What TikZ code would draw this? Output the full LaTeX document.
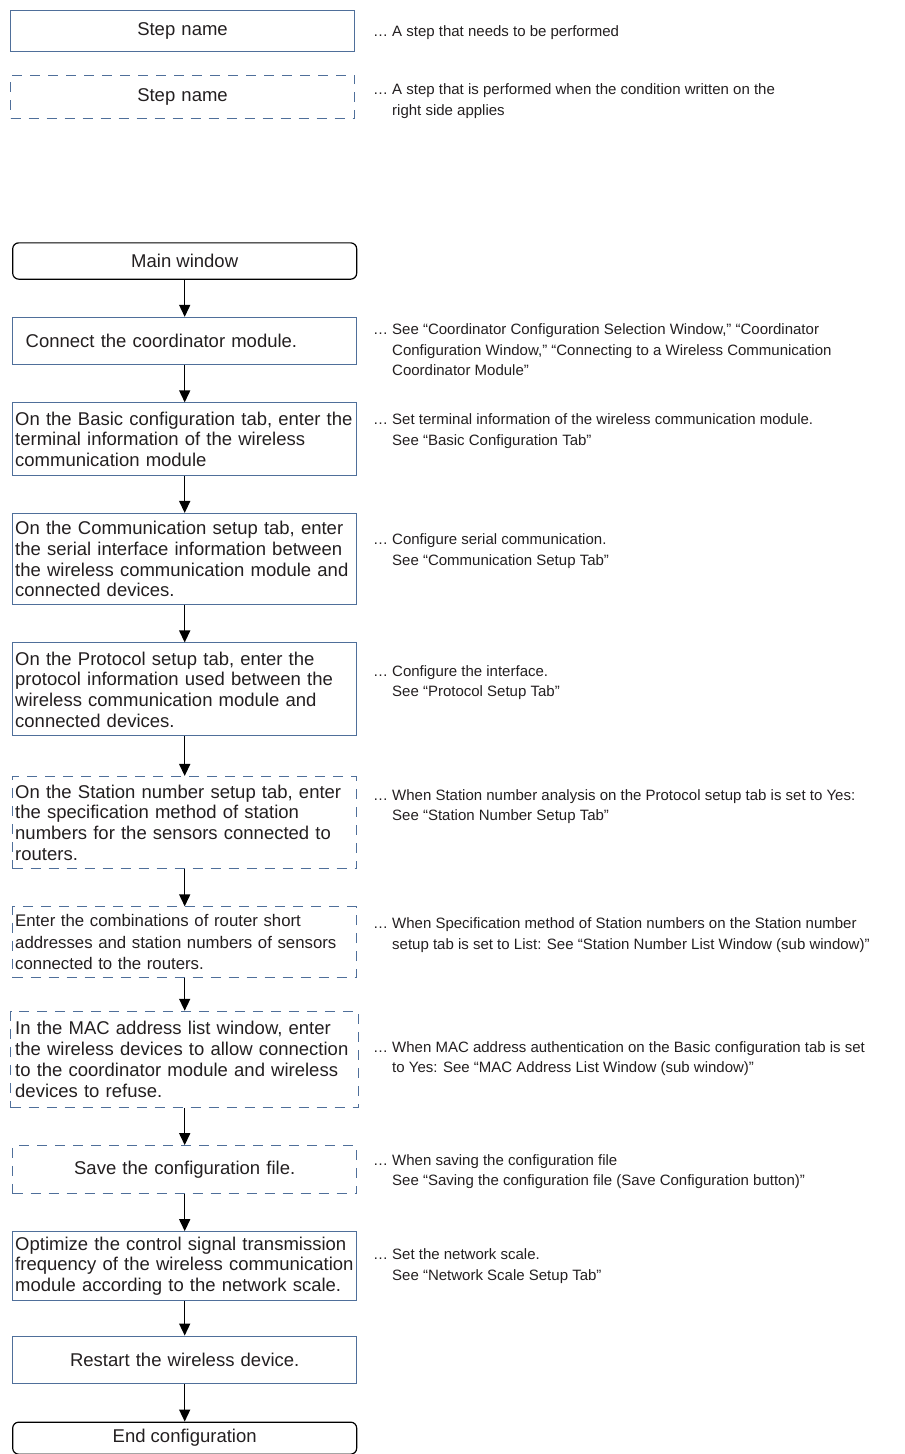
\documentclass[tikz,border=0pt]{standalone}
\usepackage{fontspec}
\setmainfont{Liberation Sans}
\usepackage{tikz}
\usetikzlibrary{arrows.meta,positioning}
\usepackage{xcolor}
\definecolor{boxblue}{RGB}{79,111,154}
\definecolor{txtgray}{RGB}{35,31,32}
\newcommand{\notedots}{\leavevmode\llap{…\ }}

\begin{document}
\begin{tikzpicture}[
x=1pt,y=-1pt,
node distance=37.1pt,
stepbox/.style={rectangle,draw=boxblue,line width=1pt,minimum width=344pt,inner xsep=2.5pt,inner ysep=2pt,text width=339pt,align=left,text=txtgray,font=\fontsize{18.5pt}{20.7pt}\selectfont},
optbox/.style={stepbox,dash pattern=on 10pt off 8pt},
endbox/.style={rectangle,draw,rounded corners=6pt,line width=1.2pt,minimum width=344pt,align=center,text=txtgray,font=\fontsize{18.5pt}{20.7pt}\selectfont},
note/.style={anchor=west,inner sep=0pt,align=left,text=txtgray,font=\fontsize{15pt}{20.5pt}\selectfont},
arr/.style={-{Triangle[length=12pt,width=11pt]},line width=1.5pt}
]
\useasboundingbox (0,0) rectangle (905,1454);
\coordinate (notex) at (392,0);

% legend
\node[stepbox,align=center,minimum height=41.7pt] (leg1) at (182.5,30.9) {Step name};
\node[optbox,align=center,minimum height=43pt,below=22.3pt of leg1] (leg2) {Step name};
\node[note,yshift=-2pt] (nleg1) at (notex |- leg1) {\notedots A step that needs to be performed};
\node[note,yshift=-4.5pt] (nleg2) at (notex |- leg2) {\notedots A step that is performed when the condition written on the\\right side applies};

% flow
\node[endbox,minimum height=36.3pt] (main) at (184.7,261) {Main window};
\node[stepbox,minimum height=47.4pt,text width=318pt,below=of main] (conn) {Connect the coordinator module.};
\node[stepbox,minimum height=72.5pt,below=of conn] (basic) {On the Basic configuration tab, enter the\\terminal information of the wireless\\communication module};
\node[stepbox,minimum height=91.4pt,below=of basic] (comm) {On the Communication setup tab, enter\\the serial interface information between\\the wireless communication module and\\connected devices.};
\node[stepbox,minimum height=93pt,below=of comm] (proto) {On the Protocol setup tab, enter the\\protocol information used between the\\wireless communication module and\\connected devices.};
\node[optbox,minimum height=92.3pt,below=39.5pt of proto] (stat) {On the Station number setup tab, enter\\the specification method of station\\numbers for the sensors connected to\\routers.};
\node[optbox,minimum height=70.3pt,font=\fontsize{16.8pt}{21.2pt}\selectfont,below=of stat] (router) {Enter the combinations of router short\\addresses and station numbers of sensors\\connected to the routers.};
\node[optbox,minimum height=96.3pt,minimum width=348pt,below=33.1pt of router] (mac) {In the MAC address list window, enter\\the wireless devices to allow connection\\to the coordinator module and wireless\\devices to refuse.};
\node[optbox,align=center,minimum height=47.9pt,below=of mac] (save) {Save the configuration file.};
\node[stepbox,minimum height=68.9pt,below=of save] (opt) {Optimize the control signal transmission\\frequency of the wireless communication\\module according to the network scale.};
\node[stepbox,align=center,minimum height=47.9pt,below=34.5pt of opt] (restart) {Restart the wireless device.};
\node[endbox,minimum height=32pt,below=of restart] (end) {End configuration};

% notes on the right
\node[note,yshift=-9pt] (nconn) at (notex |- conn) {\notedots See “Coordinator Configuration Selection Window,” “Coordinator\\Configuration Window,” “Connecting to a Wireless Communication\\Coordinator Module”};
\node[note,yshift=8pt] (nbasic) at (notex |- basic) {\notedots Set terminal information of the wireless communication module.\\See “Basic Configuration Tab”};
\node[note,yshift=8pt] (ncomm) at (notex |- comm) {\notedots Configure serial communication.\\See “Communication Setup Tab”};
\node[note,yshift=7pt] (nproto) at (notex |- proto) {\notedots Configure the interface.\\See “Protocol Setup Tab”};
\node[note,yshift=16pt] (nstat) at (notex |- stat) {\notedots When Station number analysis on the Protocol setup tab is set to Yes:\\See “Station Number Setup Tab”};
\node[note,yshift=7pt] (nrouter) at (notex |- router) {\notedots When Specification method of Station numbers on the Station number\\setup tab is set to List: See “Station Number List Window (sub window)”};
\node[note,yshift=1pt] (nmac) at (notex |- mac) {\notedots When MAC address authentication on the Basic configuration tab is set\\to Yes: See “MAC Address List Window (sub window)”};
\node[note,yshift=-2pt] (nsave) at (notex |- save) {\notedots When saving the configuration file\\See “Saving the configuration file (Save Configuration button)”};
\node[note] (nopt) at (notex |- opt) {\notedots Set the network scale.\\See “Network Scale Setup Tab”};

\draw[arr] (main) -- (conn);
\draw[arr] (conn) -- (basic);
\draw[arr] (basic) -- (comm);
\draw[arr] (comm) -- (proto);
\draw[arr] (proto) -- (stat);
\draw[arr] (stat) -- (router);
\draw[arr] (router) -- (mac);
\draw[arr] (mac) -- (save);
\draw[arr] (save) -- (opt);
\draw[arr] (opt) -- (restart);
\draw[arr] (restart) -- (end);
\end{tikzpicture}
\end{document}
